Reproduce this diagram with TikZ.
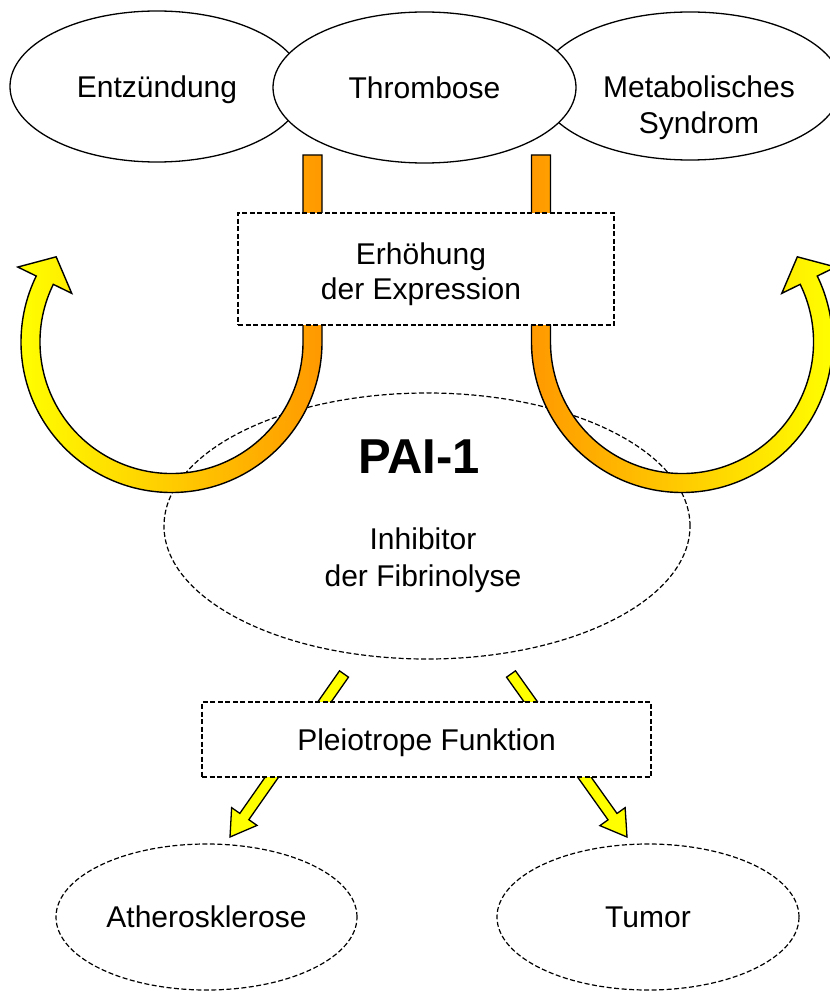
\documentclass[tikz,border=0pt]{standalone}
\usepackage{fontspec}
\setmainfont{Liberation Sans}
\usetikzlibrary{shapes.geometric,calc}
\definecolor{orng}{RGB}{255,153,0}
\definecolor{yllw}{RGB}{255,255,0}
\begin{document}
\begin{tikzpicture}[x=1pt,y=1pt,
  lbl/.style={font=\fontsize{30}{36}\selectfont, align=center, inner sep=0pt},
  ell/.style={ellipse, draw, line width=1.3pt, fill=white, inner sep=0pt,
              font=\fontsize{30}{36}\selectfont, text depth=0pt},
  dell/.style={ellipse, draw, line width=1.2pt, dash pattern=on 5pt off 2.5pt,
               fill=white, inner sep=0pt, font=\fontsize{30}{36}\selectfont, text depth=0pt},
  dbox/.style={rectangle, draw, line width=1.2pt, dash pattern=on 5pt off 2.5pt,
               fill=white, inner sep=0pt},
  bendarrow/.style={draw=black, line width=1.4pt, line join=miter},
  fat/.style={draw=black, line width=1.3pt, fill=yllw, line join=miter}]

\useasboundingbox (0,0) rectangle (829,-992);

% top ellipses
\node[ell, minimum width=294pt, minimum height=151pt] (E) at (157,-86.5) {Entzündung};
\node[ell, minimum width=302pt, minimum height=148pt] (M) at (690,-86) {};
\node[lbl] (Mt) at (699,-108) {Metabolisches\\Syndrom};
\node[ell, minimum width=303pt, minimum height=151pt] (T) at (424.5,-87.5) {Thrombose};

% PAI-1 ellipse
\node[dell, minimum width=526pt, minimum height=266pt] (P) at (427,-526) {};

% curved arrows
\coordinate (CL) at (171.5,-342);
\coordinate (CR) at (682,-342);
\path[bendarrow, left color=yllw, right color=orng]
  (303,-155) -- (322,-155) -- (322,-342)
  arc[start angle=0, end angle=-206, radius=150.5]
  -- ($(CL)+(154:171)$) -- ($(CL)+(154:141)+(64:26)$) -- ($(CL)+(154:111)$)
  -- ($(CL)+(154:131.5)$)
  arc[start angle=154, end angle=360, radius=131.5] -- cycle;
\path[bendarrow, left color=orng, right color=yllw]
  (550.5,-155) -- (531.5,-155) -- (531.5,-342)
  arc[start angle=180, end angle=386, radius=150.5]
  -- ($(CR)+(26:171)$) -- ($(CR)+(26:141)+(116:26)$) -- ($(CR)+(26:111)$)
  -- ($(CR)+(26:131.5)$)
  arc[start angle=26, end angle=-180, radius=131.5] -- cycle;

% expression box
\node[dbox, minimum width=376pt, minimum height=112pt] (X) at (426,-269) {};
\node[lbl, font=\fontsize{30}{35}\selectfont] (Xt) at (421,-274) {Erhöhung\\der Expression};

% PAI-1 texts
\node[inner sep=0pt, font=\bfseries\fontsize{49}{58}\selectfont] (Pt) at (419,-457) {PAI-1};
\node[lbl, font=\fontsize{30}{37}\selectfont] (It) at (423,-560) {Inhibitor\\der Fibrinolyse};

% bottom straight arrows
\coordinate (sL) at (344,-674);
\coordinate (eL) at (230,-837);
\coordinate (sR) at (511,-674);
\coordinate (eR) at (627,-837);
\coordinate (hbL) at ($(eL)!25pt!(sL)$);
\coordinate (hbR) at ($(eR)!25pt!(sR)$);
\path[fat] ($(sL)!5.5pt!90:(eL)$) -- ($(hbL)!5.5pt!-90:(sL)$) -- ($(hbL)!15.5pt!-90:(sL)$)
  -- (eL) -- ($(hbL)!15.5pt!90:(sL)$) -- ($(hbL)!5.5pt!90:(sL)$) -- ($(sL)!5.5pt!-90:(eL)$) -- cycle;
\path[fat] ($(sR)!5.5pt!90:(eR)$) -- ($(hbR)!5.5pt!-90:(sR)$) -- ($(hbR)!15.5pt!-90:(sR)$)
  -- (eR) -- ($(hbR)!15.5pt!90:(sR)$) -- ($(hbR)!5.5pt!90:(sR)$) -- ($(sR)!5.5pt!-90:(eR)$) -- cycle;

% pleiotrope box
\node[dbox, lbl, text depth=0pt, minimum width=449pt, minimum height=75pt] (Y) at (426.5,-739.5) {Pleiotrope Funktion};

% bottom ellipses
\node[dell, minimum width=301pt, minimum height=146pt] (A) at (206.5,-917) {Atherosklerose};
\node[dell, minimum width=302pt, minimum height=146pt] (Tu) at (648,-917) {Tumor};
\end{tikzpicture}
\end{document}
